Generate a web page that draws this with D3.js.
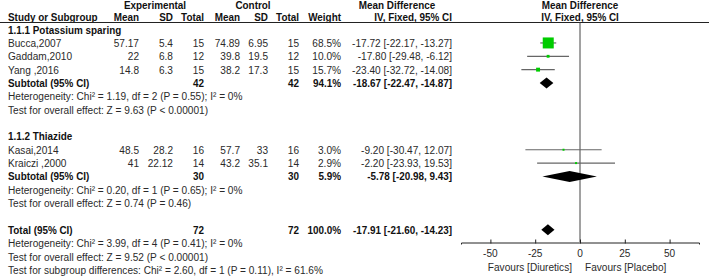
<!DOCTYPE html>
<html>
<head>
<meta charset="utf-8">
<script src="https://cdn.jsdelivr.net/npm/d3@7"></script>
<style>
  body { margin: 0; background: #fff; }
  svg text { font-family: Arial, "Liberation Sans", sans-serif; font-size: 11px; fill: #2a2a2a; }
  svg text.b { font-weight: bold; fill: #111; }
</style>
</head>
<body>
<div id="here"></div>
<script>
// DATA
const studies  = ["Bucca,2007", "Gaddam,2010", "Yang ,2016", "Kasai,2014", "Kraiczi ,2000"];
const group    = [1, 1, 1, 2, 2];
const expMean  = ["57.17", "22", "14.8", "48.5", "41"];
const expSD    = ["5.4", "6.8", "6.3", "28.2", "22.12"];
const expN     = [15, 12, 15, 16, 14];
const ctrlMean = ["74.89", "39.8", "38.2", "57.7", "43.2"];
const ctrlSD   = ["6.95", "19.5", "17.3", "33", "35.1"];
const ctrlN    = [15, 12, 15, 16, 14];
const weight   = [68.5, 10.0, 15.7, 3.0, 2.9];
const md       = [-17.72, -17.80, -23.40, -9.20, -2.20];
const ciLow    = [-22.17, -29.48, -32.72, -30.47, -23.93];
const ciHigh   = [-13.27, -6.12, -14.08, 12.07, 19.53];

const groupNames = ["1.1.1 Potassium sparing", "1.1.2 Thiazide"];
const subExpN    = [42, 30];
const subCtrlN   = [42, 30];
const subWeight  = [94.1, 5.9];
const subMd      = [-18.67, -5.78];
const subLow     = [-22.47, -20.98];
const subHigh    = [-14.87, 9.43];
const subHet     = ["Heterogeneity: Chi² = 1.19, df = 2 (P = 0.55); I² = 0%",
                    "Heterogeneity: Chi² = 0.20, df = 1 (P = 0.65); I² = 0%"];
const subTest    = ["Test for overall effect: Z = 9.63 (P < 0.00001)",
                    "Test for overall effect: Z = 0.74 (P = 0.46)"];

const totalN     = [72, 72];
const totalMd    = -17.91, totalLow = -21.60, totalHigh = -14.23;
const totalNotes = ["Heterogeneity: Chi² = 3.99, df = 4 (P = 0.41); I² = 0%",
                    "Test for overall effect: Z = 9.52 (P < 0.00001)",
                    "Test for subgroup differences: Chi² = 2.60, df = 1 (P = 0.11), I² = 61.6%"];

const axisTicks = [-50, -25, 0, 25, 50];
const favLeft = "Favours [Diuretics]", favRight = "Favours [Placebo]";

// LAYOUT
const width = 709, height = 279;
const sxBold = 0.9, sxNorm = 0.92; // glyphs in the reference are slightly condensed
const rowY = i => 29.6 + 13.35 * i;
const col = { name: 8, em: 139, esd: 173, en: 204, cm: 240, csd: 268, cn: 299, w: 341, ci: 452 };

const svg = d3.select("#here").append("svg")
  .attr("width", width).attr("height", height);

function txt(x, y, s, anchor, bold) {
  svg.append("text")
    .attr("class", bold ? "b" : null)
    .attr("transform", `translate(${x},${y}) scale(${bold ? sxBold : sxNorm},1)`)
    .attr("dy", "0.36em")
    .attr("text-anchor", anchor || "start")
    .text(s);
}

const fmt = v => v.toFixed(2);
const ciText = (m, l, h) => `${fmt(m)} [${fmt(l)}, ${fmt(h)}]`;

// x scale for the forest plot
const x = d3.scaleLinear().domain([-66.4, 66.4]).range([461, 699]);
const boxSize = d3.scalePow().exponent(0.7).domain([0, 68.5]).range([0, 11]);

// headers
txt(155, 5, "Experimental", "middle", true);
txt(253, 5, "Control", "middle", true);
txt(397, 5, "Mean Difference", "middle", true);
txt(580, 5, "Mean Difference", "middle", true);
txt(col.name, 17, "Study or Subgroup", "start", true);
txt(col.em, 17, "Mean", "end", true);
txt(col.esd, 17, "SD", "end", true);
txt(col.en, 17, "Total", "end", true);
txt(col.cm, 17, "Mean", "end", true);
txt(col.csd, 17, "SD", "end", true);
txt(col.cn, 17, "Total", "end", true);
txt(col.w, 17, "Weight", "end", true);
txt(col.ci, 17, "IV, Fixed, 95% CI", "end", true);
txt(580, 17, "IV, Fixed, 95% CI", "middle", true);

svg.append("line")
  .attr("x1", 0).attr("x2", width).attr("y1", 22.5).attr("y2", 22.5)
  .attr("stroke", "#222").attr("stroke-width", 1);

// zero line
svg.append("line")
  .attr("x1", x(0)).attr("x2", x(0)).attr("y1", 22.5).attr("y2", 242)
  .attr("stroke", "#444").attr("stroke-width", 1);

function diamond(m, l, h, y) {
  svg.append("path")
    .attr("d", `M${x(l)},${y} L${x(m)},${y - 5.5} L${x(h)},${y} L${x(m)},${y + 5.5} Z`)
    .attr("fill", "#000");
}

// groups
let r = 0;
[1, 2].forEach(function(g, gi) {
  txt(col.name, rowY(r), groupNames[gi], "start", true);
  r++;
  studies.forEach(function(s, i) {
    if (group[i] !== g) return;
    const y = rowY(r);
    txt(col.name, y, s);
    txt(col.em, y, expMean[i], "end");
    txt(col.esd, y, expSD[i], "end");
    txt(col.en, y, expN[i], "end");
    txt(col.cm, y, ctrlMean[i], "end");
    txt(col.csd, y, ctrlSD[i], "end");
    txt(col.cn, y, ctrlN[i], "end");
    txt(col.w, y, weight[i].toFixed(1) + "%", "end");
    txt(col.ci, y, ciText(md[i], ciLow[i], ciHigh[i]), "end");

    svg.append("line")
      .attr("x1", x(ciLow[i])).attr("x2", x(ciHigh[i]))
      .attr("y1", y).attr("y2", y)
      .attr("stroke", "#666").attr("stroke-width", 1.2);
    const b = Math.max(2, boxSize(weight[i]));
    svg.append("rect")
      .attr("x", x(md[i]) - b / 2).attr("y", y - b / 2)
      .attr("width", b).attr("height", b)
      .attr("fill", "#00cc00");
    r++;
  });
  const y = rowY(r);
  txt(col.name, y, "Subtotal (95% CI)", "start", true);
  txt(col.en, y, subExpN[gi], "end", true);
  txt(col.cn, y, subCtrlN[gi], "end", true);
  txt(col.w, y, subWeight[gi].toFixed(1) + "%", "end", true);
  txt(col.ci, y, ciText(subMd[gi], subLow[gi], subHigh[gi]), "end", true);
  diamond(subMd[gi], subLow[gi], subHigh[gi], y);
  r++;
  txt(col.name, rowY(r), subHet[gi]); r++;
  txt(col.name, rowY(r), subTest[gi]); r++;
  r++;
});

// total
const ty = rowY(r);
txt(col.name, ty, "Total (95% CI)", "start", true);
txt(col.en, ty, totalN[0], "end", true);
txt(col.cn, ty, totalN[1], "end", true);
txt(col.w, ty, "100.0%", "end", true);
txt(col.ci, ty, ciText(totalMd, totalLow, totalHigh), "end", true);
diamond(totalMd, totalLow, totalHigh, ty);
r++;
totalNotes.forEach(function(n) { txt(col.name, rowY(r), n); r++; });

// axis
const axisY = 242.5;
const ax = svg.append("g")
  .attr("transform", `translate(0,${axisY})`)
  .call(d3.axisBottom(x).tickValues(axisTicks).tickSizeOuter(0).tickSize(2));
ax.select(".domain").attr("stroke", "#222");
ax.selectAll(".tick line").attr("y1", -3).attr("y2", 1).attr("stroke", "#222");
ax.selectAll(".tick text").remove();
axisTicks.forEach(function(t) { txt(x(t), 253.5, String(t), "middle"); });

txt(x(0) - 8, 267, favLeft, "end");
txt(x(0) + 5, 267, favRight, "start");
</script>
</body>
</html>
